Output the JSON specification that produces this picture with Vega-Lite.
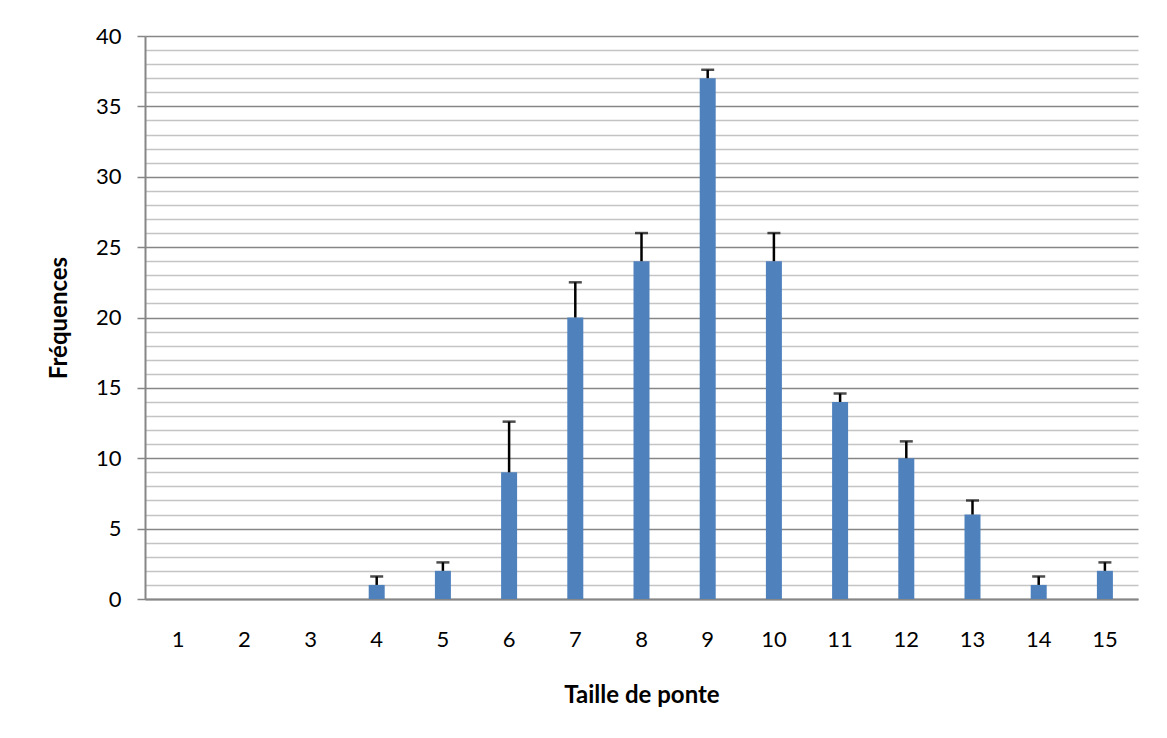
{
  "$schema": "https://vega.github.io/schema/vega-lite/v6.json",
  "width": 993,
  "height": 563,
  "autosize": {"type": "none"},
  "padding": {"left": 145, "top": 36, "right": 29, "bottom": 139},
  "background": "white",
  "config": {
    "view": {"stroke": null},
    "font": "Lato"
  },
  "data": {
    "values": [
      {"taille": 1, "freq": 0, "upper": 0},
      {"taille": 2, "freq": 0, "upper": 0},
      {"taille": 3, "freq": 0, "upper": 0},
      {"taille": 4, "freq": 1, "upper": 1.6},
      {"taille": 5, "freq": 2, "upper": 2.6},
      {"taille": 6, "freq": 9, "upper": 12.6},
      {"taille": 7, "freq": 20, "upper": 22.5},
      {"taille": 8, "freq": 24, "upper": 26},
      {"taille": 9, "freq": 37, "upper": 37.6},
      {"taille": 10, "freq": 24, "upper": 26},
      {"taille": 11, "freq": 14, "upper": 14.6},
      {"taille": 12, "freq": 10, "upper": 11.2},
      {"taille": 13, "freq": 6, "upper": 7},
      {"taille": 14, "freq": 1, "upper": 1.6},
      {"taille": 15, "freq": 2, "upper": 2.6}
    ]
  },
  "encoding": {
    "x": {
      "field": "taille",
      "type": "ordinal",
      "scale": {"paddingInner": 0, "paddingOuter": 0},
      "axis": {
        "title": "Taille de ponte",
        "titleFont": "Lato",
        "titleFontSize": 24,
        "titleFontWeight": "bold",
        "titleColor": "black",
        "titlePadding": 33,
        "labelAngle": 0,
        "labelFont": "Lato",
        "labelFontSize": 22,
        "labelColor": "black",
        "labelPadding": 30,
        "ticks": false,
        "domainColor": "#868686",
        "domainWidth": 2,
        "grid": false
      }
    }
  },
  "layer": [
    {
      "mark": {"type": "bar", "color": "#4f81bd", "size": 16},
      "encoding": {
        "y": {
          "field": "freq",
          "type": "quantitative",
          "scale": {"domain": [0, 40], "nice": false},
          "axis": {
            "title": "Fréquences",
            "titleFont": "Lato",
            "titleFontSize": 24,
            "titleFontWeight": "bold",
            "titleColor": "black",
            "titlePadding": 24,
            "values": [0,1,2,3,4,5,6,7,8,9,10,11,12,13,14,15,16,17,18,19,20,21,22,23,24,25,26,27,28,29,30,31,32,33,34,35,36,37,38,39,40],
            "tickCount": 100,
            "format": "d",
            "labelOverlap": false,
            "labelExpr": "datum.value % 5 === 0 ? datum.label : ''",
            "labelFont": "Lato",
            "labelFontSize": 22,
            "labelColor": "black",
            "labelPadding": 16,
            "tickSize": 8,
            "tickWidth": 1.5,
            "tickColor": {"condition": {"test": "datum.value % 5 === 0", "value": "#868686"}, "value": "transparent"},
            "domainColor": "#868686",
            "domainWidth": 2,
            "grid": true,
            "gridWidth": 1.5,
            "gridColor": {"condition": {"test": "datum.value % 5 === 0", "value": "#868686"}, "value": "#c4c4c4"}
          }
        }
      }
    },
    {
      "mark": {"type": "rule", "color": "black", "strokeWidth": 2.5},
      "transform": [{"filter": "datum.upper > datum.freq"}],
      "encoding": {
        "y": {"field": "freq", "type": "quantitative"},
        "y2": {"field": "upper"}
      }
    },
    {
      "mark": {"type": "tick", "color": "black", "thickness": 2.5, "size": 13, "orient": "horizontal"},
      "transform": [{"filter": "datum.upper > datum.freq"}],
      "encoding": {
        "y": {"field": "upper", "type": "quantitative"}
      }
    }
  ]
}
